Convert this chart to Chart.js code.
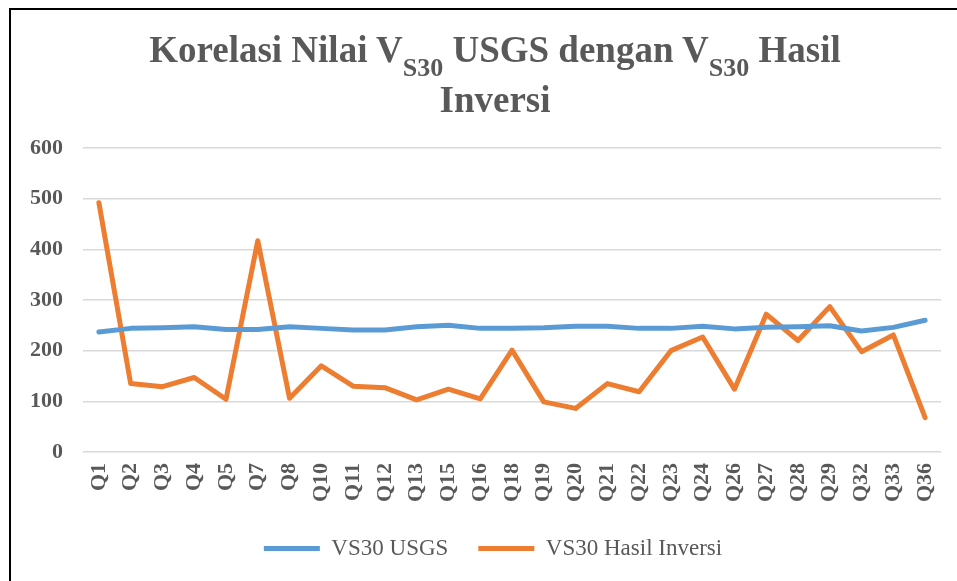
<!DOCTYPE html>
<html><head><meta charset="utf-8">
<script src="https://cdn.jsdelivr.net/npm/chart.js@4.4.1/dist/chart.umd.min.js"></script>
<style>
html,body{margin:0;padding:0;background:#fff;overflow:hidden;width:957px;height:581px;}
#wrap{position:relative;width:957px;height:581px;overflow:hidden;}
#frame{position:absolute;left:9px;top:8px;width:1000px;height:700px;border-left:2px solid #000;border-top:2px solid #000;box-sizing:border-box;pointer-events:none;}
canvas{position:absolute;left:0;top:0;}
.t{position:absolute;left:0;width:990px;text-align:center;font-family:"Liberation Serif","Times New Roman",serif;font-weight:bold;font-size:37px;line-height:37px;color:#595959;white-space:nowrap;}
.t sub{font-size:26px;vertical-align:-14px;line-height:0;}
</style></head>
<body><div id="wrap"><canvas id="c" width="957" height="581"></canvas><div id="frame"></div>
<div class="t" style="top:31px">Korelasi Nilai V<sub>S30</sub> USGS dengan V<sub>S30</sub> Hasil</div>
<div class="t" style="top:81px">Inversi</div></div>
<script>
const categories = ["Q1","Q2","Q3","Q4","Q5","Q7","Q8","Q10","Q11","Q12","Q13","Q15","Q16","Q18","Q19","Q20","Q21","Q22","Q23","Q24","Q26","Q27","Q28","Q29","Q32","Q33","Q36"];
const vs30Usgs = [237,244,245,247,242,242,247,244,241,241,247,250,244,244,245,248,248,244,244,248,243,246,247,249,239,246,260];
const vs30Inversi = [492,135,129,147,104,417,106,170,130,127,103,124,105,201,99,86,135,119,200,227,124,272,220,287,198,231,68];
const seriesNames = ["VS30 USGS","VS30 Hasil Inversi"];
const yTicks = [0,100,200,300,400,500,600];

const FAM = '"Liberation Serif","Times New Roman",serif';
const GRAY = '#595959';
const shiftLegend = {
  id: 'shiftLegend',
  afterLayout(chart) { if (chart.legend) { chart.legend.left = 45; chart.legend.right = 941; } }
};
new Chart(document.getElementById('c'), {
  type: 'line',
  plugins: [shiftLegend],
  data: {
    labels: categories,
    datasets: [
      {label: seriesNames[0], data: vs30Usgs, borderColor: '#5B9BD5', backgroundColor: '#5B9BD5', borderWidth: 5, pointRadius: 0, borderCapStyle: 'round', borderJoinStyle: 'round', tension: 0, pointStyle: 'line'},
      {label: seriesNames[1], data: vs30Inversi, borderColor: '#ED7D31', backgroundColor: '#ED7D31', borderWidth: 5, pointRadius: 0, borderCapStyle: 'round', borderJoinStyle: 'round', tension: 0, pointStyle: 'line'}
    ]
  },
  options: {
    responsive: false, animation: false, devicePixelRatio: 1,
    layout: {padding: {left: 0, right: 16, top: 148, bottom: 11}},
    plugins: {
      title: {display: false},
      tooltip: {enabled: false},
      legend: {position: 'bottom', labels: {usePointStyle: true, pointStyle: 'line', pointStyleWidth: 56, padding: 30, font: {family: FAM, size: 23}, color: GRAY}}
    },
    scales: {
      x: {offset: true, grid: {display: false, drawTicks: false}, border: {display: false},
          ticks: {minRotation: 90, maxRotation: 90, autoSkip: false, font: {family: FAM, size: 22, weight: 'bold'}, color: GRAY, padding: 11},
          afterFit: s => { s.height = 55; s.paddingLeft = 0; s.paddingRight = 0; }},
      y: {min: yTicks[0], max: yTicks[yTicks.length-1],
          afterBuildTicks: s => { s.ticks = yTicks.map(v => ({value: v})); },
          ticks: {font: {family: FAM, size: 22, weight: 'bold'}, color: GRAY, padding: 20},
          grid: {color: '#d9d9d9', lineWidth: 1.5, drawTicks: false}, border: {display: false},
          afterFit: s => { s.width = 83; }}
    }
  }
});
</script>
</body></html>
